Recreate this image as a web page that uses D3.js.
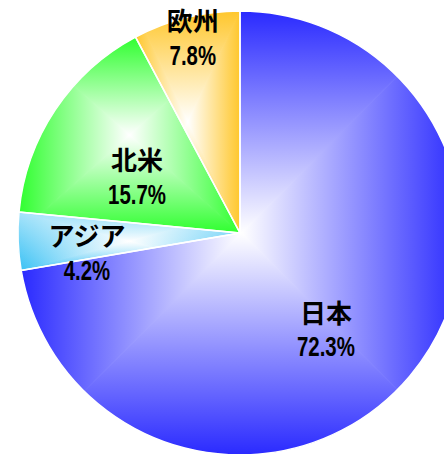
<!DOCTYPE html>
<html><head><meta charset="utf-8">
<script src="https://cdn.jsdelivr.net/npm/d3@7/dist/d3.min.js"></script>
<style>html,body{margin:0;padding:0;background:#fff;overflow:hidden}</style>
</head><body><svg id="c" width="444" height="454"></svg>
<script>
// ---- data ----
const categories = ["日本", "アジア", "北米", "欧州"];
const values = [72.3, 4.2, 15.7, 7.8];
const valueLabels = ["72.3%", "4.2%", "15.7%", "7.8%"];
// ---- styling / layout ----
const colors = ["#2a2aff", "#36c0f4", "#30ff30", "#ffc72c"];
const topSheen = [0, 0.55, 0, 0];
const labelRadius = [0.58, 0.695, 0.53, 0.908];
const labelNudgeDeg = [8, -5, -4.7, 0.5];

const W = 444, H = 454, cx = 240, cy = 233, R = 222;
const svg = d3.select("#c");
const defs = svg.append("defs");
const arcs = d3.pie().sort(null).value(d => d)(values);
const arc = d3.arc().innerRadius(0).outerRadius(R);
const g = svg.append("g").attr("transform", `translate(${cx},${cy})`);

function bbox(p) {
  const pts = [[0, 0]];
  const add = a => pts.push([R * Math.sin(a), -R * Math.cos(a)]);
  add(p.startAngle); add(p.endAngle);
  for (let k = 0; k <= 4; k++) {
    const a = k * Math.PI / 2;
    if (a > p.startAngle && a < p.endAngle) add(a);
  }
  const xs = pts.map(d => d[0]), ys = pts.map(d => d[1]);
  return [d3.min(xs), d3.min(ys), d3.max(xs), d3.max(ys)];
}

arcs.forEach((p, i) => {
  const [x0, y0, x1, y1] = bbox(p);
  const mx = (x0 + x1) / 2, my = (y0 + y1) / 2;
  defs.append("clipPath").attr("id", "clip" + i).append("path").attr("d", arc(p));
  const sg = g.append("g").attr("clip-path", `url(#clip${i})`);
  const tris = [
    {pts: [[mx, my], [x0, y0], [x1, y0]], to: [mx, y0]},
    {pts: [[mx, my], [x1, y0], [x1, y1]], to: [x1, my]},
    {pts: [[mx, my], [x1, y1], [x0, y1]], to: [mx, y1]},
    {pts: [[mx, my], [x0, y1], [x0, y0]], to: [x0, my]}
  ];
  tris.forEach((t, j) => {
    const id = `gr${i}_${j}`;
    const lg = defs.append("linearGradient").attr("id", id)
      .attr("gradientUnits", "userSpaceOnUse")
      .attr("x1", mx).attr("y1", my).attr("x2", t.to[0]).attr("y2", t.to[1]);
    lg.append("stop").attr("offset", 0).attr("stop-color", "#ffffff");
    lg.append("stop").attr("offset", 1).attr("stop-color", colors[i]);
    sg.append("polygon").attr("points", t.pts.map(d => d.join(",")).join(" "))
      .attr("fill", `url(#${id})`).attr("stroke", `url(#${id})`).attr("stroke-width", 1);
  });
  if (topSheen[i] > 0) {
    const id = `sheen${i}`;
    const lg = defs.append("linearGradient").attr("id", id)
      .attr("gradientUnits", "userSpaceOnUse")
      .attr("x1", 0).attr("y1", y0).attr("x2", 0).attr("y2", y1);
    lg.append("stop").attr("offset", 0).attr("stop-color", "#fff").attr("stop-opacity", topSheen[i]);
    lg.append("stop").attr("offset", 1).attr("stop-color", "#fff").attr("stop-opacity", 0);
    sg.append("rect").attr("x", x0 - 2).attr("y", y0 - 2).attr("width", x1 - x0 + 4)
      .attr("height", y1 - y0 + 4).attr("fill", `url(#${id})`);
  }
});

g.selectAll("path.border").data(arcs).join("path").attr("class", "border")
  .attr("d", arc).attr("fill", "none").attr("stroke", "#ffffff").attr("stroke-width", 1.5);

const fontJ = "'Noto Sans CJK JP','Noto Sans CJK SC',sans-serif";
const fontN = "'Liberation Sans Narrow','Liberation Sans',Arial,sans-serif";
arcs.forEach((p, i) => {
  const a = (p.startAngle + p.endAngle) / 2 + labelNudgeDeg[i] * Math.PI / 180;
  const r = labelRadius[i] * R;
  const lx = r * Math.sin(a), ly = -r * Math.cos(a);
  g.append("text").attr("x", lx).attr("y", ly - 6)
    .attr("text-anchor", "middle").attr("font-family", fontJ).attr("font-weight", 700)
    .attr("font-size", 26).attr("fill", "#000").text(categories[i]);
  const txt = valueLabels[i];
  g.append("text").attr("x", lx).attr("y", ly + 27.5)
    .attr("text-anchor", "middle").attr("font-family", fontN).attr("font-weight", 700)
    .attr("font-size", 28).attr("fill", "#000")
    .attr("textLength", txt.length * 11.6).attr("lengthAdjust", "spacingAndGlyphs")
    .text(txt);
});
</script></body></html>
